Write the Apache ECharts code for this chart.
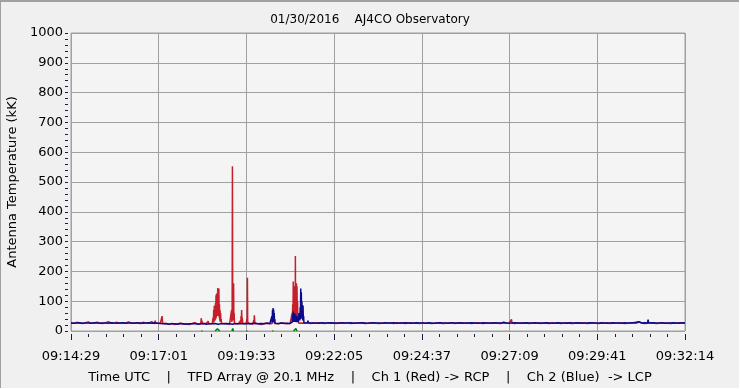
<!DOCTYPE html>
<html>
<head>
<meta charset="utf-8">
<script src="https://cdn.jsdelivr.net/npm/echarts@6/dist/echarts.min.js"></script>
<style>
html,body{margin:0;padding:0;background:#f0f0f0;}
#chart{width:740px;height:389px;}
</style>
</head>
<body>
<div id="chart"></div>
<script>
// ---- data ----
const titleText = "01/30/2016    AJ4CO Observatory";
const footerText = "Time UTC    |    TFD Array @ 20.1 MHz    |    Ch 1 (Red) -> RCP    |    Ch 2 (Blue)  -> LCP";
const yAxisName = "Antenna Temperature (kK)";
const xTickLabels = ["09:14:29","09:17:01","09:19:33","09:22:05","09:24:37","09:27:09","09:29:41","09:32:14"];
const TOTAL_SECONDS = 1065;   // 09:14:29 -> 09:32:14
const BASE_STEP = 5;          // seconds between baseline samples

// Ch 1 (red, RCP) baseline, one value every 5 s
const ch1Base = [
 28,26,29,27,25,28,30,26,27,29, 27,25,28,31,26,27,29,26,28,27,
 30,26,27,28,25,29,27,26,31,27, 28,26,26,24,23,25,22,24,26,23,
 24,22,25,28,23,24,22,26,23,25, 24,23,22,25,24,23,26,22,24,25,
 23,24,25,23,26,24,22,25,27,24, 25,26,24,27,25,26,24,28,26,25,
 27,26,28,25,27,26,28,27,25,28, 26,27,25,28,27,26,28,25,27,26,
 28,27,25,26,28,27,26,25,27,28, 26,27,25,28,26,27,25,27,28,26,
 27,25,28,26,27,25,26,28,27,25, 26,27,28,25,27,26,28,26,27,25,
 27,28,26,25,27,26,28,27,26,25, 30,27,26,28,25,27,26,28,27,25,
 27,26,28,25,27,26,25,28,26,27, 25,27,28,26,25,27,26,28,27,25,
 26,28,27,25,27,26,28,25,27,26, 28,27,25,26,28,27,26,30,27,25,
 26,28,27,25,26,28,27,26,25,27, 26,28,27,26
];
// Ch 2 (blue, LCP) baseline, one value every 5 s
const ch2Base = [
 27,26,27,28,26,27,27,26,28,27, 26,27,27,26,28,27,26,27,28,26,
 27,27,26,28,27,26,27,28,26,27, 26,25,24,25,23,24,24,23,25,24,
 23,24,24,25,23,24,25,23,24,24, 25,23,24,24,25,24,23,25,24,24,
 24,25,24,25,26,24,25,24,26,25, 25,26,25,27,26,25,26,27,26,27,
 27,26,27,28,27,27,26,28,27,27, 28,27,27,26,28,27,27,28,26,27,
 27,28,27,26,27,28,27,27,26,28, 27,27,28,26,27,27,28,27,26,27,
 28,27,27,26,28,27,26,27,28,27, 27,26,28,27,27,28,26,27,27,28,
 27,26,27,28,27,27,26,28,27,27, 28,27,26,27,28,27,27,26,28,27,
 27,28,26,27,27,28,27,26,27,28, 27,27,26,28,27,27,28,26,27,27,
 28,27,27,26,28,27,26,27,28,27, 27,26,28,27,27,28,29,31,27,28,
 27,26,28,27,27,28,26,27,27,28, 27,26,28,27
];
// bursts: [seconds from start, kK]
const ch1Bursts = [
 [[145,25],[146,35],[147,26]],
 [[157,25],[158,50],[159,26]],
 [[225,24],[226,43],[226.5,28],[227,35],[228,24]],
 [[237,24],[238,33],[239,24]],
 [[246,24],[246.5,45],[247,28],[247.5,70],[248,30],[248.5,85],[249,35],[249.5,70],[250,35],[250.5,93],[251,40],[251.5,120],[252,45],[252.5,126],[253,50],[253.5,110],[254,60],[254.5,144],[255,50],[255.5,120],[256,55],[256.5,143],[257,45],[257.5,90],[258,35],[258.5,70],[259,30],[259.5,60],[260,30],[260.5,40],[261,25]],
 [[278,24],[278.5,70],[279,30],[279.5,60],[280,553],[280.5,40],[281,90],[281.5,35],[282,160],[282.5,40],[283,60],[283.5,25]],
 [[293,24],[294,35],[294.5,25],[295,50],[295.5,28],[296,70],[296.5,30],[297,45],[298,25]],
 [[304,25],[305,40],[305.5,28],[306,179],[306.5,30],[307,35],[308,25]],
 [[316,25],[317,35],[317.5,26],[318,53],[319,25]],
 [[349,25],[350,50],[350.5,30],[351,60],[351.5,30],[352,55],[353,25]],
 [[383,25],[383.5,60],[384,30],[384.5,90],[385,35],[385.5,166],[386,40],[386.5,130],[387,45],[387.5,150],[388,40],[388.5,140],[389,45],[389.2,252],[389.5,50],[390,150],[390.5,45],[391,160],[391.5,50],[392,150],[392.5,40],[393,98],[393.5,30],[394,40],[395,26]],
 [[763,26],[764,39],[765,27]]
];
const ch2Bursts = [
 [[348,25],[348.5,50],[349,28],[349.5,70],[350,30],[350.5,77],[351,35],[351.5,72],[352,30],[352.5,60],[353,28],[353.5,40],[354,26]],
 [[384,30],[384.5,55],[385,30],[385.5,65],[386,32],[386.5,50],[387,30],[387.5,60],[388,35],[388.5,45],[389,30],[389.5,55],[390,30],[390.5,40],[391,30],[391.5,50],[392,30],[392.5,35],[393,28],[393.5,45],[394,30],[394.5,35],[395,30],[395.5,60],[396,35],[396.5,55],[397,35],[397.5,80],[398,40],[398.5,143],[399,50],[399.5,130],[400,45],[400.5,100],[401,40],[401.5,87],[402,35],[402.5,85],[403,35],[403.5,50],[404,28]],
 [[410,27],[411,35],[412,27]],
 [[1000,27],[1001,38],[1002,27]]
];
const ch3Bursts = [
 [[226,0],[227,2],[228,0]],
 [[250,0],[252,4],[254,7],[256,5],[258,0]],
 [[279,0],[280.5,8],[282,0]],
 [[304,0],[305,3],[306,0]],
 [[349,0],[350,3],[351,0]],
 [[386,0],[388,6],[390,8],[392,0]]
];

// ---- build ----
function build(base, groups) {
  const pts = [];
  base.forEach((v, i) => {
    const t = i * BASE_STEP;
    if (!groups.some(g => t >= g[0][0] && t <= g[g.length - 1][0])) pts.push([t, v]);
  });
  groups.forEach(g => g.forEach(p => pts.push(p)));
  pts.sort((a, b) => a[0] - b[0]);
  return pts;
}
function buildGaps(groups) {
  const pts = [];
  groups.forEach((g, k) => {
    if (k > 0) pts.push([g[0][0] - 0.5, null]);
    g.forEach(p => pts.push(p));
  });
  return pts;
}

const FONT = "DejaVu Sans";
const XINT = TOTAL_SECONDS / 7;
const TICK = '#1c1c3c';
const tickStyle = {color: TICK, width: 1, opacity: 1, type: 'solid'};
const chart = echarts.init(document.getElementById('chart'), null, {renderer: 'canvas'});
chart.setOption({
  animation: false,
  backgroundColor: '#f0f0f0',
  title: [
    {text: titleText, left: 'center', top: 9, textStyle: {fontFamily: FONT, fontSize: 12, fontWeight: 'normal', color: '#000'}},
    {text: footerText, left: 'center', top: 366, textStyle: {fontFamily: FONT, fontSize: 13, fontWeight: 'normal', color: '#000'}}
  ],
  grid: {left: 71, right: 55, top: 33, bottom: 58, outerBoundsMode: 'none', containLabel: false,
    show: true, backgroundColor: '#f4f4f4', borderColor: '#a0a0a0', borderWidth: 1},
  xAxis: {
    type: 'value', min: 0, max: TOTAL_SECONDS, interval: XINT, offset: 3,
    axisLine: {show: true, onZero: false, lineStyle: {color: '#f0f0f0', width: 1}},
    axisTick: {show: true, length: 6, lineStyle: tickStyle},
    minorTick: {show: true, splitNumber: 5, length: 3, lineStyle: tickStyle},
    splitLine: {show: true, lineStyle: {color: '#a0a0a0', width: 1}},
    axisLabel: {margin: 16, fontFamily: FONT, fontSize: 13, color: '#000', showMinLabel: true, showMaxLabel: true,
      formatter: v => xTickLabels[Math.round(v / XINT)] || ''}
  },
  yAxis: {
    type: 'value', min: 0, max: 1000, interval: 100, offset: 3,
    name: yAxisName, nameLocation: 'middle', nameGap: 44,
    nameTextStyle: {fontFamily: FONT, fontSize: 13, color: '#000'},
    axisLine: {show: true, onZero: false, lineStyle: {color: '#f0f0f0', width: 1}},
    axisTick: {show: true, length: 3, lineStyle: tickStyle},
    minorTick: {show: true, splitNumber: 5, length: 3, lineStyle: tickStyle},
    splitLine: {show: true, lineStyle: {color: '#a0a0a0', width: 1}},
    axisLabel: {margin: 5, fontFamily: FONT, fontSize: 13, color: '#000', formatter: v => String(v)}
  },
  series: [
    {name: 'Ch 1', type: 'line', data: build(ch1Base, ch1Bursts), showSymbol: false, symbol: 'none', sampling: null,
      lineStyle: {color: '#c41f2b', width: 1.5}, itemStyle: {color: '#c41f2b'}},
    {name: 'Ch 2', type: 'line', data: build(ch2Base, ch2Bursts), showSymbol: false, symbol: 'none',
      lineStyle: {color: '#0a0a8c', width: 1.5}, itemStyle: {color: '#0a0a8c'}},
    {name: 'Ch 3', type: 'line', data: buildGaps(ch3Bursts), showSymbol: false, symbol: 'none', connectNulls: false,
      lineStyle: {color: '#008000', width: 1.5}, itemStyle: {color: '#008000'}}
  ],
  graphic: [
    {type: 'rect', shape: {x: 0, y: 0, width: 740, height: 2}, style: {fill: '#a0a0a0'}, silent: true},
    {type: 'rect', shape: {x: 0, y: 0, width: 1, height: 389}, style: {fill: '#a0a0a0'}, silent: true},
    {type: 'rect', shape: {x: 739, y: 0, width: 1, height: 389}, style: {fill: '#ffffff'}, silent: true},
    {type: 'rect', shape: {x: 0, y: 388, width: 740, height: 1}, style: {fill: '#ffffff'}, silent: true}
  ]
});
</script>
</body>
</html>
